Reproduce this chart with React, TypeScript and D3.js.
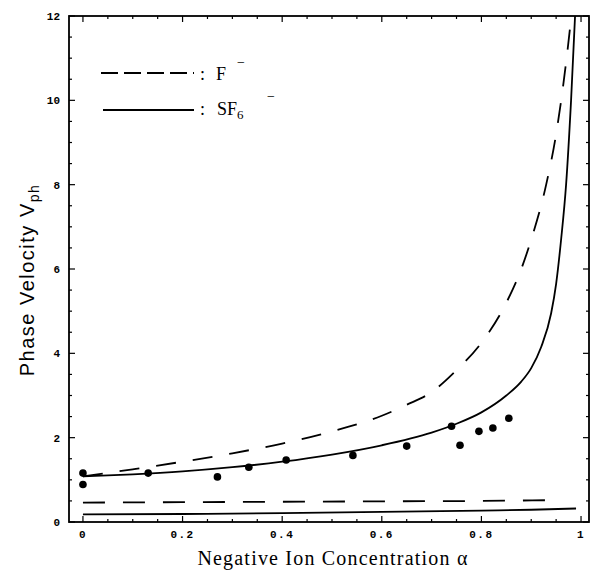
import React from "react";
import * as d3 from "d3";

const xTicks = [0, 0.2, 0.4, 0.6, 0.8, 1];
const xTickLabels = ["0", "0.2", "0.4", "0.6", "0.8", "1"];
const yTicks = [0, 2, 4, 6, 8, 10, 12];
const yTickLabels = ["0", "2", "4", "6", "8", "10", "12"];

// F- (dashed) upper branch
const fX = [0, 0.1, 0.2, 0.3, 0.4, 0.5, 0.6, 0.65, 0.7, 0.75, 0.8, 0.85, 0.88, 0.9, 0.93, 0.95, 0.97, 0.985];
const fY = [1.08, 1.25, 1.43, 1.63, 1.86, 2.15, 2.52, 2.78, 3.08, 3.6, 4.25, 5.2, 6.0, 6.7, 8.0, 9.2, 10.9, 12.5];
// SF6- (solid) upper branch
const sX = [0, 0.1, 0.2, 0.3, 0.4, 0.5, 0.6, 0.7, 0.75, 0.8, 0.85, 0.88, 0.9, 0.92, 0.94, 0.95, 0.96, 0.97, 0.98, 0.99];
const sY = [1.08, 1.13, 1.2, 1.3, 1.43, 1.6, 1.82, 2.12, 2.33, 2.6, 3.0, 3.33, 3.65, 4.15, 4.95, 5.65, 6.7, 8.0, 10.0, 12.5];
// lower branches
const fLowX = [0, 0.2, 0.4, 0.6, 0.8, 0.96];
const fLowY = [0.46, 0.47, 0.48, 0.49, 0.5, 0.52];
const sLowX = [0, 0.2, 0.4, 0.6, 0.8, 0.9, 0.99];
const sLowY = [0.18, 0.19, 0.21, 0.24, 0.27, 0.29, 0.32];
// measured points
const ptX = [0, 0, 0.131, 0.27, 0.333, 0.408, 0.542, 0.65, 0.74, 0.757, 0.795, 0.823, 0.855];
const ptY = [1.16, 0.89, 1.16, 1.07, 1.3, 1.47, 1.58, 1.8, 2.27, 1.82, 2.15, 2.23, 2.46];

export default function App() {
  const W = 598, H = 578;
  const L = 69, R = 589, T = 16, B = 522;
  const x = d3.scaleLinear().domain([-0.028, 1.016]).range([L, R]);
  const y = d3.scaleLinear().domain([0, 12]).range([B, T]);
  const line = d3.line<[number, number]>().x((d) => x(d[0])).y((d) => y(d[1])).curve(d3.curveMonotoneX);
  const zip = (a: number[], b: number[]) => a.map((v, i) => [v, b[i]] as [number, number]);

  const xMinor = d3.range(0, 1.0001, 0.05);
  const yMinor = d3.range(0, 12.0001, 0.5);
  const mono = "'Liberation Mono', 'DejaVu Sans Mono', monospace";
  const serif = "'Liberation Serif', 'DejaVu Serif', serif";
  const sans = "'Liberation Sans', Arial, sans-serif";

  return (
    <svg width={W} height={H} style={{ display: "block", position: "absolute", left: 0, top: 0, background: "#fff" }}>
      <defs>
        <clipPath id="clip">
          <rect x={L} y={T} width={R - L} height={B - T} />
        </clipPath>
      </defs>
      {/* ticks */}
      {xMinor.map((v, i) => {
        const major = xTicks.some((t) => Math.abs(t - v) < 1e-6);
        const len = major ? 6 : 3;
        return (
          <g key={"xm" + i} stroke="#000" strokeWidth={1.2}>
            <line x1={x(v)} x2={x(v)} y1={B} y2={B - len} />
            <line x1={x(v)} x2={x(v)} y1={T} y2={T + len} />
          </g>
        );
      })}
      {yMinor.map((v, i) => {
        const major = yTicks.some((t) => Math.abs(t - v) < 1e-6);
        const len = major ? 6 : 3;
        return (
          <g key={"ym" + i} stroke="#000" strokeWidth={1.2}>
            <line x1={L} x2={L + len} y1={y(v)} y2={y(v)} />
            <line x1={R} x2={R - len} y1={y(v)} y2={y(v)} />
          </g>
        );
      })}
      <rect x={L} y={T} width={R - L} height={B - T} fill="none" stroke="#000" strokeWidth={1.8} />
      {/* tick labels */}
      {xTicks.map((v, i) => (
        <text key={"xl" + i} x={x(v)} y={B + 16} fontFamily={mono} fontSize={11} fontWeight="bold" textAnchor="middle" letterSpacing={1.5}>
          {xTickLabels[i]}
        </text>
      ))}
      {yTicks.map((v, i) => (
        <text key={"yl" + i} x={L - 9} y={y(v) + 4} fontFamily={mono} fontSize={11} fontWeight="bold" textAnchor="end">
          {yTickLabels[i]}
        </text>
      ))}
      {/* curves */}
      <g clipPath="url(#clip)" fill="none" stroke="#000" strokeWidth={1.8}>
        <path d={line(zip(fX, fY)) || ""} strokeDasharray="20,17" />
        <path d={line(zip(sX, sY)) || ""} />
        <path d={line(zip(fLowX, fLowY)) || ""} strokeDasharray="22,18" />
        <path d={line(zip(sLowX, sLowY)) || ""} />
      </g>
      {ptX.map((v, i) => (
        <circle key={"p" + i} cx={x(v)} cy={y(ptY[i])} r={3.8} fill="#000" />
      ))}
      {/* legend */}
      <line x1={101} x2={194} y1={73} y2={73} stroke="#000" strokeWidth={1.8} strokeDasharray="17,6" />
      <text x={200} y={80} fontFamily={serif} fontSize={18}>:</text>
      <text x={216} y={80} fontFamily={serif} fontSize={18}>F</text>
      <text x={237} y={67} fontFamily={serif} fontSize={14}>−</text>
      <line x1={103} x2={194} y1={110} y2={110} stroke="#000" strokeWidth={1.8} />
      <text x={200} y={115} fontFamily={serif} fontSize={18}>:</text>
      <text x={217} y={115} fontFamily={serif} fontSize={18}>
        SF<tspan fontSize={13} dy={4}>6</tspan>
      </text>
      <text x={267} y={101} fontFamily={serif} fontSize={14}>−</text>
      {/* axis titles */}
      <text x={333} y={565} fontFamily={serif} fontSize={20} textAnchor="middle" letterSpacing={1.2}>
        Negative Ion Concentration α
      </text>
      <text transform="translate(34,280) rotate(-90)" fontFamily={sans} fontSize={20} textAnchor="middle" letterSpacing={1.5}>
        Phase Velocity V<tspan fontSize={14} dy={5}>ph</tspan>
      </text>
    </svg>
  );
}
